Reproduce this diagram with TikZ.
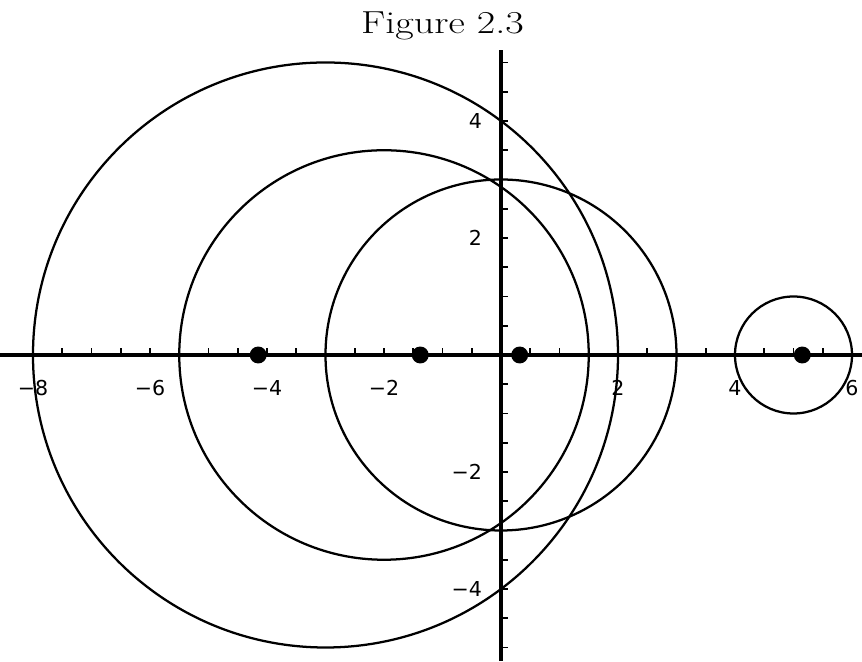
\documentclass[tikz,border=0pt]{standalone}
\usepackage{fontspec}
\newfontfamily\tickfont{DejaVu Sans}
\usepackage{tikz}

\begin{document}
\begin{tikzpicture}[x=1cm, y=1cm,
    axis/.style={line width=1.6pt},
    tickmark/.style={line width=0.9pt},
    disc/.style={line width=1.1pt},
    eig/.style={circle, fill=black, inner sep=0pt, minimum size=0.29cm},
    xlab/.style={font=\tickfont\fontsize{10}{12}\selectfont},
    ylab/.style={font=\tickfont\fontsize{10}{12}\selectfont, anchor=east}]
    \path[use as bounding box] (-8.564,-5.231) rectangle (6.171,6.068);

    % 1. Hệ trục tọa độ
    \coordinate (xleft) at (-8.564,0);
    \coordinate (xright) at (6.171,0);
    \coordinate (ybot) at (0,-5.231);
    \coordinate (ytop) at (0,5.21);
    \draw[axis] (xleft) -- (xright);
    \draw[axis] (ybot) -- (ytop);
    \foreach \i in {-16,...,12}
        \draw[tickmark] (\i/2,0) -- (\i/2,0.12);
    \foreach \i in {-10,...,10}
        \draw[tickmark] (0,\i/2) -- (0.12,\i/2);

    % 2. Các đường tròn
    \draw[disc] (-3,0) circle (5);
    \draw[disc] (-2,0) circle (3.5);
    \draw[disc] (0,0) circle (3);
    \draw[disc] (5,0) circle (1);

    % 3. Đánh dấu các điểm
    \node[eig] (lam1) at (-4.15,0) {};
    \node[eig] (lam2) at (-1.38,0) {};
    \node[eig] (lam3) at (0.32,0) {};
    \node[eig] (lam4) at (5.15,0) {};

    % 4. Nhãn trên các trục
    \node[xlab] (xm8) at (-8,-0.56) {−8};
    \node[xlab] (xm6) at (-6,-0.56) {−6};
    \node[xlab] (xm4) at (-4,-0.56) {−4};
    \node[xlab] (xm2) at (-2,-0.56) {−2};
    \node[xlab] (xp2) at (2,-0.56) {2};
    \node[xlab] (xp4) at (4,-0.56) {4};
    \node[xlab] (xp6) at (6,-0.56) {6};
    \node[ylab] (yp4) at (-0.2,4) {4};
    \node[ylab] (yp2) at (-0.2,2) {2};
    \node[ylab] (ym2) at (-0.2,-2) {−2};
    \node[ylab] (ym4) at (-0.2,-4) {−4};

    % 5. Tiêu đề
    \node[anchor=base, font=\fontsize{15.5}{18}\selectfont, xscale=1.26, transform shape]
        (title) at (-1,5.49) {Figure 2.3};
\end{tikzpicture}
\end{document}
